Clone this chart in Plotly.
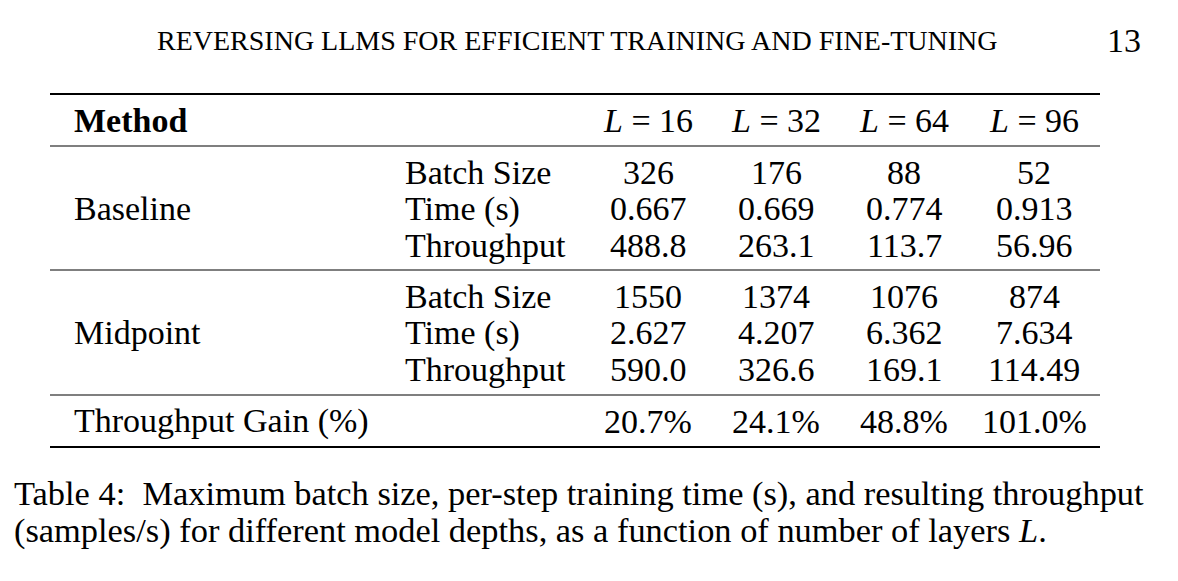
import plotly.graph_objects as go

# ---- table content ----
header_text = "REVERSING LLMS FOR EFFICIENT TRAINING AND FINE-TUNING"
page_number = "13"
layers = [16, 32, 64, 96]
methods = ["Baseline", "Midpoint"]
metrics = ["Batch Size", "Time (s)", "Throughput"]

baseline_batch = ["326", "176", "88", "52"]
baseline_time = ["0.667", "0.669", "0.774", "0.913"]
baseline_tput = ["488.8", "263.1", "113.7", "56.96"]

midpoint_batch = ["1550", "1374", "1076", "874"]
midpoint_time = ["2.627", "4.207", "6.362", "7.634"]
midpoint_tput = ["590.0", "326.6", "169.1", "114.49"]

gain_label = "Throughput Gain (%)"
gain = ["20.7%", "24.1%", "48.8%", "101.0%"]

caption = [
    "Table 4:\u00a0 Maximum batch size, per-step training time (s), and resulting throughput",
    "(samples/s) for different model depths, as a function of number of layers <i>L</i>.",
]

# ---- layout (page pixel space; the page body has an 8px margin) ----
W, H = 1178, 581
OFF = 8
FONT = "Liberation Serif"
FS = 34
x_method = 72
x_metric = 403
x_cols = [648, 776, 904, 1034]
rule_left, rule_right = 50, 1100
y_header = 120
row_h = 36.5
y_block = [172, 296]
y_gain = 421
rules = [(94, 2.2), (146, 1.2), (270, 1.2), (395, 1.2), (447, 2.2)]

fig = go.Figure()
ann = []


def txt(x, y, s, anchor="center", size=FS, bold=False):
    if bold:
        s = "<b>" + s + "</b>"
    ann.append(dict(x=x, y=y, xref="x", yref="y", text=s, showarrow=False,
                    xanchor=anchor, yanchor="middle",
                    font=dict(family=FONT, size=size, color="black")))


# running header
txt(577, 40, header_text, size=28)
txt(1143, 40, page_number, anchor="right", size=FS)

# column header
txt(x_method, y_header, "Method", anchor="left", bold=True)
for xc, L in zip(x_cols, layers):
    txt(xc, y_header, f"<i>L</i> = {L}")

blocks = [
    [baseline_batch, baseline_time, baseline_tput],
    [midpoint_batch, midpoint_time, midpoint_tput],
]
for m, y0, rows in zip(methods, y_block, blocks):
    txt(x_method, y0 + row_h, m, anchor="left")
    for i, (metric, vals) in enumerate(zip(metrics, rows)):
        y = y0 + i * row_h
        txt(x_metric, y, metric, anchor="left")
        for xc, v in zip(x_cols, vals):
            txt(xc, y, v)

txt(x_method, y_gain, gain_label, anchor="left")
for xc, v in zip(x_cols, gain):
    txt(xc, y_gain, v)

# caption
for i, line in enumerate(caption):
    txt(12, 493 + i * 37, line, anchor="left", size=34.4)

shapes = [dict(type="line", xref="x", yref="y", x0=rule_left, x1=rule_right,
               y0=y, y1=y, line=dict(color="black", width=w)) for y, w in rules]

fig.update_layout(
    width=W - OFF, height=H - OFF,
    margin=dict(l=0, r=0, t=0, b=0),
    paper_bgcolor="white", plot_bgcolor="white",
    xaxis=dict(range=[OFF, W], visible=False, fixedrange=True),
    yaxis=dict(range=[H, OFF], visible=False, fixedrange=True),
    annotations=ann, shapes=shapes, showlegend=False,
)
fig.write_html("out.html")
